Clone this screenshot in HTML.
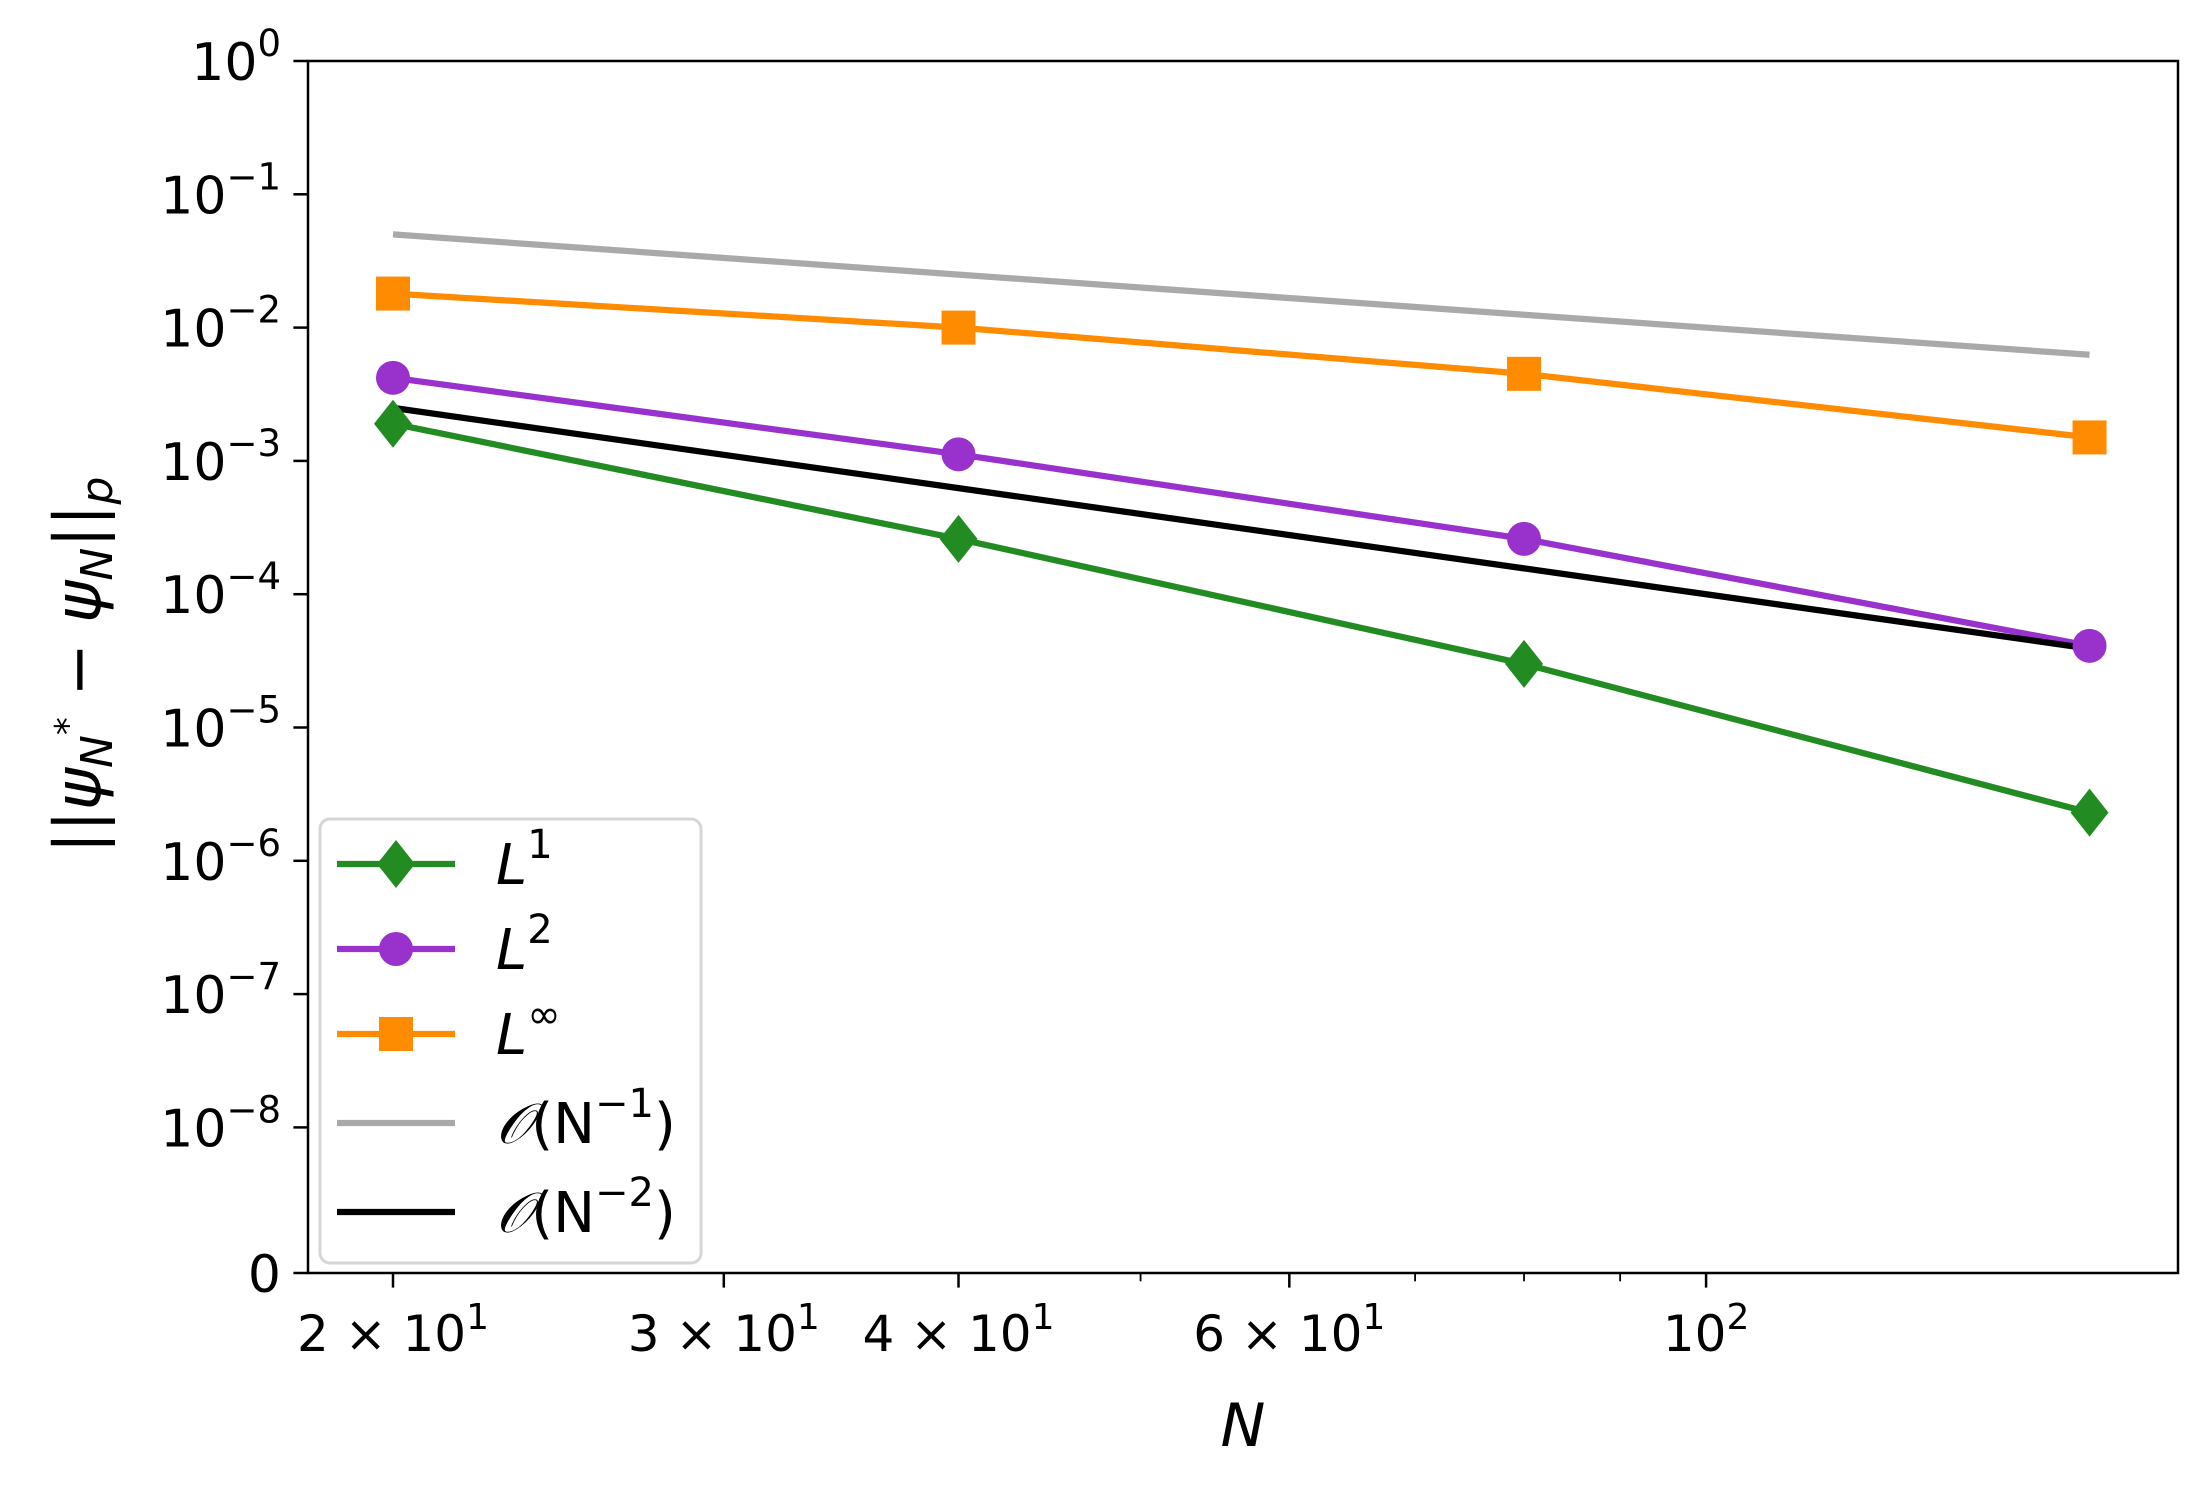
<!DOCTYPE html>
<html><head><meta charset="utf-8"><style>
html,body{margin:0;padding:0;background:#fff}
svg{display:block;font-family:"DejaVu Sans","Liberation Sans",sans-serif}
</style></head><body>
<svg id="chart" width="2206" height="1492" viewBox="0 0 2206 1492" xmlns="http://www.w3.org/2000/svg">
<rect x="0" y="0" width="2206" height="1492" fill="#fff"/>
<g id="marks"></g>
<g id="axes"></g>
<g id="legend"></g>
</svg>
<script>
const nValues = [20, 40, 80, 160];
const l1Values = [1.9e-3, 2.6e-4, 3.0e-5, 2.3e-6];
const l2Values = [4.2e-3, 1.12e-3, 2.6e-4, 4.1e-5];
const linfValues = [1.8e-2, 1.0e-2, 4.5e-3, 1.5e-3];
const order1Values = [0.05, 0.025, 0.0125, 0.00625];
const order2Values = [2.5e-3, 6.25e-4, 1.5625e-4, 3.90625e-5];
const yTickExps = [0, -1, -2, -3, -4, -5, -6, -7, -8];
const xMajorTicks = [20, 30, 40, 60, 100];
const xMajorLabels = [["2","1"],["3","1"],["4","1"],["6","1"],[null,"2"]];
const xMinorTicks = [50, 70, 80, 90];

const NS = "http://www.w3.org/2000/svg";
const L = 308, R = 2178, T = 61, B = 1273;
const decY = 133.3;
const x0 = 393, decX = 1878.6;
function xs(n){ return x0 + decX * Math.log10(n / 20); }
function ys(v){ return T - decY * Math.log10(v); }
function el(tag, attrs, parent){
  const e = document.createElementNS(NS, tag);
  for (const k in attrs) e.setAttribute(k, attrs[k]);
  parent.appendChild(e); return e;
}
const marks = document.getElementById('marks');
const axes = document.getElementById('axes');
const legend = document.getElementById('legend');

function line(vals, color, name){
  const p = vals.map((v,i)=>xs(nValues[i]).toFixed(1)+','+ys(v).toFixed(1)).join(' ');
  const pl = el('polyline', {points:p, fill:'none', stroke:color, 'stroke-width':6.25, 'stroke-linejoin':'round'}, marks);
  
  
}
function marker(g, type, cx, cy, color){
  let m;
  if (type==='D') m = el('polygon', {points:`${cx},${cy-24} ${cx+19},${cy} ${cx},${cy+24} ${cx-19},${cy}`, fill:color}, g);
  else if (type==='o') m = el('circle', {cx:cx, cy:cy, r:17, fill:color}, g);
  else m = el('rect', {x:cx-17, y:cy-17, width:34, height:34, fill:color}, g);
  return m;
}
function markers(vals, type, color, name){
  vals.forEach((v,i)=>{
    const m = marker(marks, type, xs(nValues[i]), ys(v), color);
    
    
  });
}
line(order1Values, '#a9a9a9', 'order-n1-line');
line(linfValues, '#ff8c00', 'linf-line');
line(l2Values, '#9932cc', 'l2-line');
line(order2Values, '#000000', 'order-n2-line');
line(l1Values, '#228b22', 'l1-line');
markers(linfValues, 's', '#ff8c00', 'linf');
markers(l2Values, 'o', '#9932cc', 'l2');
markers(l1Values, 'D', '#228b22', 'l1');

const fr = el('rect', {x:L, y:T, width:R-L, height:B-T, fill:'none', stroke:'#000', 'stroke-width':2.5}, axes);



yTickExps.forEach(e=>{
  const y = T - decY*e;
  el('line', {x1:L-14.6, x2:L, y1:y, y2:y, stroke:'#000', 'stroke-width':2.5}, axes);
  const t = el('text', {x:281, y:y+19, 'text-anchor':'end', 'font-size':52, fill:'#000'}, axes);
  
  
  t.innerHTML = '10<tspan dy="-24" font-size="37">' + (e===0?'0':'\u2212'+(-e)) + '</tspan>';
});
el('line', {x1:L-14.6, x2:L, y1:B, y2:B, stroke:'#000', 'stroke-width':2.5}, axes);
const z = el('text', {x:281, y:B+19, 'text-anchor':'end', 'font-size':52}, axes);


z.textContent = '0';

xMajorTicks.forEach((n,i)=>{
  const x = xs(n);
  el('line', {x1:x, x2:x, y1:B, y2:B+14.6, stroke:'#000', 'stroke-width':2.5}, axes);
  const t = el('text', {x:x, y:B+78, 'text-anchor':'middle', 'font-size':50}, axes);
  
  
  const lb = xMajorLabels[i];
  t.innerHTML = (lb[0] ? lb[0] + ' \u00d7 ' : '') + '10<tspan dy="-22" font-size="36">' + lb[1] + '</tspan>';
});
xMinorTicks.forEach(n=>{
  const x = xs(n);
  el('line', {x1:x, x2:x, y1:B, y2:B+8.3, stroke:'#000', 'stroke-width':1.8}, axes);
});

const xl = el('text', {x:1243, y:1446, 'text-anchor':'middle', 'font-size':60, 'font-style':'italic'}, axes);


xl.textContent = 'N';
const yl = el('text', {x:0, y:0, 'text-anchor':'middle', 'font-size':64, transform:'translate(100,665) rotate(-90)'}, axes);


yl.innerHTML = '||<tspan font-style="italic">\u03c8</tspan><tspan dy="12" font-size="44" font-style="italic">N</tspan><tspan dy="-32" font-size="36">*</tspan><tspan dy="20"> \u2212 </tspan><tspan font-style="italic">\u03c8</tspan><tspan dy="12" font-size="44" font-style="italic">N</tspan><tspan dy="-12">||</tspan><tspan dy="12" font-size="44" font-style="italic">p</tspan>';

const lb = el('rect', {x:320, y:819, width:381, height:444, rx:10, fill:'#fff', 'fill-opacity':0.85, stroke:'#d6d6d6', 'stroke-width':3}, legend);


const entries = [
  ['#228b22','D','L','1',true,'legend-entry-l1'],
  ['#9932cc','o','L','2',true,'legend-entry-l2'],
  ['#ff8c00','s','L','\u221e',true,'legend-entry-linf'],
  ['#a9a9a9',null,'O(N','\u22121',false,'legend-entry-order1'],
  ['#000000',null,'O(N','\u22122',false,'legend-entry-order2']
];
const ey = [864, 949, 1034, 1123, 1212];
entries.forEach((e,i)=>{
  const g = el('g', {}, legend);
  
  
  el('line', {x1:337, x2:455, y1:ey[i], y2:ey[i], stroke:e[0], 'stroke-width':6.25}, g);
  if (e[1]) marker(g, e[1], 396, ey[i], e[0]);
  const t = el('text', {x:496, y:ey[i]+20, 'font-size':56}, g);
  if (e[4]) t.innerHTML = '<tspan font-style="italic">L</tspan><tspan dy="-26" font-size="40">' + e[3] + '</tspan>';
  else t.innerHTML = '<tspan font-style="italic" font-family="Liberation Serif, serif">\ud835\udcaa</tspan>(N<tspan dy="-26" font-size="40">' + e[3] + '</tspan><tspan dy="26">)</tspan>';
});
</script>
</body></html>
